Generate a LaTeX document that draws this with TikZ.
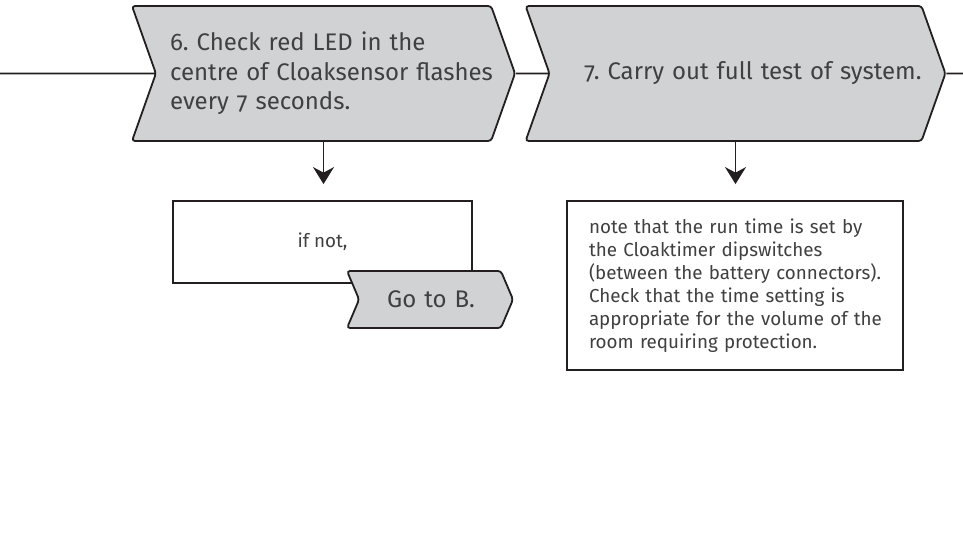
\documentclass[tikz,border=0pt]{standalone}
\usepackage{fontspec}
\setmainfont{Fira Sans}[Numbers=OldStyle]
\usepackage{tikz}
\usetikzlibrary{positioning,arrows.meta,shapes.symbols}
\definecolor{stepgray}{RGB}{209,210,212}
\definecolor{inkline}{RGB}{35,31,32}
\definecolor{inktext}{RGB}{64,64,65}
\frenchspacing

\begin{document}
\begin{tikzpicture}[x=1pt, y=-1pt, >={Stealth[length=17pt,width=21pt]},
  chevron/.style={signal, signal to=east, signal from=west, draw=inkline, fill=stepgray,
    line width=1.8pt, rounded corners=3pt, text=inktext, inner sep=0pt},
  notebox/.style={rectangle, draw=inkline, line width=1.8pt, fill=white, text=inktext, inner sep=0pt},
  bigtext/.style={font=\fontsize{24}{29.5}\selectfont},
  smalltext/.style={font=\fontsize{18.8}{23}\selectfont}]
\useasboundingbox (0,0) rectangle (963,534);

% the two steps
\node[chevron, bigtext, signal pointer angle=141, minimum width=383pt, minimum height=135pt,
  text width=307pt, align=left] (s6) at (323.5,73.5)
  {6. Check red LED in the\\\mbox{centre of Cloaksensor flashes}\\every 7 seconds.};
\node[chevron, bigtext, signal pointer angle=141, minimum width=385pt, minimum height=135pt,
  text width=372pt, align=right] (s7) at (735.5,73.5) {7. Carry out full test of system.};

\coordinate (in) at (0,73.5);
\coordinate (out) at (963,73.5);
\draw[inkline, line width=1.8pt] (in) -- (s6);
\draw[inkline, line width=1.8pt] (s6) -- (s7);
\draw[inkline, line width=1.8pt] (s7) -- (out);

% notes below
\node[notebox, smalltext, minimum width=299pt, minimum height=82pt] (ifnot) at (322.5,242) {if not,};
\node[chevron, bigtext, signal pointer angle=134, minimum width=166pt, minimum height=57pt,
  text width=90pt, align=right] (gob) at (430,299.5) {Go to B.};
\node[notebox, smalltext, minimum width=336pt, minimum height=169pt, text width=292pt, align=left] (note) at (735,285.5)
  {note that the run time is set by\\the Cloaktimer dipswitches\\\mbox{(between the battery connectors).}\\Check that the time setting is\\\mbox{appropriate for the volume of the}\\room requiring protection.};

\draw[->, inkline, line width=1.8pt, shorten >=16pt] (s6.south) -- (s6.south |- ifnot.north);
\draw[->, inkline, line width=1.8pt, shorten >=16pt] (s7.south) -- (s7.south |- note.north);
\end{tikzpicture}
\end{document}
